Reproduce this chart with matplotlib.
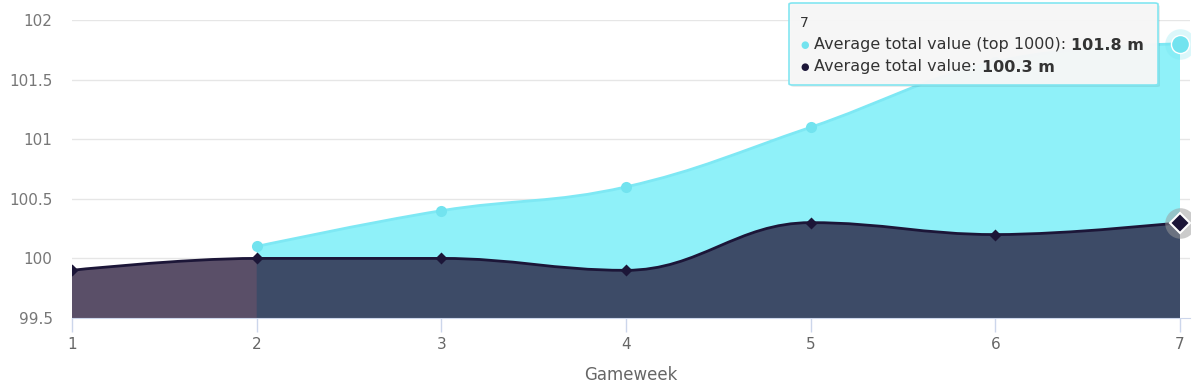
import matplotlib
matplotlib.use('Agg')
import matplotlib.pyplot as plt
from matplotlib.path import Path
from matplotlib.patches import PathPatch, FancyBboxPatch
import numpy as np

# data
gameweeks = [1, 2, 3, 4, 5, 6, 7]
avg_value = [99.9, 100.0, 100.0, 99.9, 100.3, 100.2, 100.3]
top_gameweeks = [2, 3, 4, 5, 6, 7]
top_value = [100.1, 100.4, 100.6, 101.1, 101.65, 101.8]
y_ticks = [99.5, 100, 100.5, 101, 101.5, 102]
y_labels = ['99.5', '100', '100.5', '101', '101.5', '102']

CYAN_FILL = '#8ff1f9'
CYAN_LINE = '#7ee8f4'
CYAN_MARK = '#72e3ef'
NAVY = '#211134'
NAVY_LINE = '#1c1638'
GRID = '#e6e6e6'
AXIS = '#ccd6eb'
LABEL = '#666666'


def spline_verts(xs, ys, scale_y):
    # highcharts style spline control points (smoothing 1.5)
    xs = np.asarray(xs, float)
    ys = np.asarray(ys, float) * scale_y
    n = len(xs)
    lc = [None] * n
    rc = [None] * n
    sm, den = 1.5, 2.5
    for i in range(1, n - 1):
        px, py = xs[i], ys[i]
        lx, ly = xs[i - 1], ys[i - 1]
        nx, ny = xs[i + 1], ys[i + 1]
        lcx = (sm * px + lx) / den
        lcy = (sm * py + ly) / den
        rcx = (sm * px + nx) / den
        rcy = (sm * py + ny) / den
        if rcx != lcx:
            corr = (rcy - lcy) * (rcx - px) / (rcx - lcx) + py - rcy
            lcy += corr
            rcy += corr
        if lcy > ly and lcy > py:
            lcy = max(ly, py)
            rcy = 2 * py - lcy
        elif lcy < ly and lcy < py:
            lcy = min(ly, py)
            rcy = 2 * py - lcy
        if rcy > ny and rcy > py:
            rcy = max(ny, py)
            lcy = 2 * py - rcy
        elif rcy < ny and rcy < py:
            rcy = min(ny, py)
            lcy = 2 * py - rcy
        lc[i] = (lcx, lcy)
        rc[i] = (rcx, rcy)
    verts = [(xs[0], ys[0])]
    codes = [Path.MOVETO]
    for i in range(1, n):
        a = rc[i - 1] if rc[i - 1] is not None else (xs[i - 1], ys[i - 1])
        b = lc[i] if lc[i] is not None else (xs[i], ys[i])
        verts += [a, b, (xs[i], ys[i])]
        codes += [Path.CURVE4] * 3
    verts = [(x, y / scale_y) for x, y in verts]
    return verts, codes


def area_patch(xs, ys, base, **kw):
    verts, codes = spline_verts(xs, ys, 2.5)
    verts = verts + [(xs[-1], base), (xs[0], base), verts[0]]
    codes = codes + [Path.LINETO, Path.LINETO, Path.CLOSEPOLY]
    return PathPatch(Path(verts, codes), **kw)


def line_patch(xs, ys, **kw):
    verts, codes = spline_verts(xs, ys, 2.5)
    return PathPatch(Path(verts, codes), fill=False, **kw)


fig = plt.figure(figsize=(12, 3.86), dpi=100)
ax = fig.add_axes([72 / 1200, 68 / 386, (1190 - 72) / 1200, 298 / 386])
ax.set_xlim(1, 7 + 10 / 184.67)
ax.set_ylim(99.5, 102)

for t in y_ticks[1:]:
    ax.axhline(t, color=GRID, lw=1, zorder=0)

ax.add_patch(area_patch(top_gameweeks, top_value, 99.5, facecolor=CYAN_FILL, edgecolor='none', zorder=1))
ax.add_patch(line_patch(top_gameweeks, top_value, edgecolor=CYAN_LINE, lw=2, zorder=3))
ax.add_patch(area_patch(gameweeks, avg_value, 99.5, facecolor=NAVY, alpha=0.74, edgecolor='none', zorder=2))
ax.add_patch(line_patch(gameweeks, avg_value, edgecolor=NAVY_LINE, lw=2, zorder=4))

ax.plot(top_gameweeks[:-1], top_value[:-1], 'o', ms=8, color=CYAN_MARK, mec='none', zorder=5)
ax.plot(top_gameweeks[-1:], top_value[-1:], 'o', ms=22, color=CYAN_MARK, alpha=0.25, mec='none', zorder=5)
ax.plot(top_gameweeks[-1:], top_value[-1:], 'o', ms=13, color=CYAN_MARK, mec='white', mew=1, zorder=6)
ax.plot(gameweeks[:-1], avg_value[:-1], 'D', ms=6, color=NAVY_LINE, mec='none', zorder=5)
ax.plot(gameweeks[-1:], avg_value[-1:], 'o', ms=22, color='#999999', alpha=0.5, mec='none', zorder=5)
ax.plot(gameweeks[-1:], avg_value[-1:], 'D', ms=10, color=NAVY_LINE, mec='white', mew=1.5, zorder=6)

for s in ['top', 'right', 'left']:
    ax.spines[s].set_visible(False)
ax.spines['bottom'].set_color(AXIS)
ax.spines['bottom'].set_zorder(7)
ax.set_xticks(gameweeks)
ax.set_xticklabels([str(g) for g in gameweeks])
ax.set_yticks(y_ticks)
ax.set_yticklabels(y_labels)
ax.tick_params(axis='x', colors=AXIS, labelcolor=LABEL, length=10, width=1, labelsize=11, pad=4)
ax.tick_params(axis='y', length=0, labelcolor='#777777', labelsize=11, pad=14)
ax.set_xlabel('Gameweek', color=LABEL, fontsize=12, labelpad=10)

# tooltip
box = FancyBboxPatch((789 / 1200, 1 - 85 / 386), 369 / 1200, 82 / 386,
                     boxstyle='round,pad=0,rounding_size=0.003', transform=fig.transFigure,
                     facecolor='#f7f7f7', edgecolor='#7fe5f1', lw=1.2, alpha=0.97, zorder=10)
shadow = FancyBboxPatch((791 / 1200, 1 - 87 / 386), 369 / 1200, 82 / 386,
                        boxstyle='round,pad=0,rounding_size=0.003', transform=fig.transFigure,
                        facecolor='#000000', edgecolor='none', alpha=0.08, zorder=9)
fig.patches.extend([shadow, box])

renderer = fig.canvas.get_renderer()
tx = 800 / 1200
fig.text(tx, 1 - 23 / 386, '7', fontsize=10, color='#333333', va='center', zorder=11)
rows = [(1 - 45 / 386, CYAN_MARK, 'Average total value (top 1000): ', '101.8 m'),
        (1 - 67 / 386, NAVY_LINE, 'Average total value: ', '100.3 m')]
for y, c, label, val in rows:
    fig.text(tx, y, '\u25cf', fontsize=7, color=c, va='center', zorder=11)
    t = fig.text(814 / 1200, y, label, fontsize=11.5, color='#333333', va='center', zorder=11)
    x1 = fig.transFigure.inverted().transform(t.get_window_extent(renderer))[1][0]
    fig.text(x1, y, val, fontsize=11.5, color='#333333', weight='bold', va='center', zorder=11)

fig.savefig('out.png', dpi=100, facecolor='white')
